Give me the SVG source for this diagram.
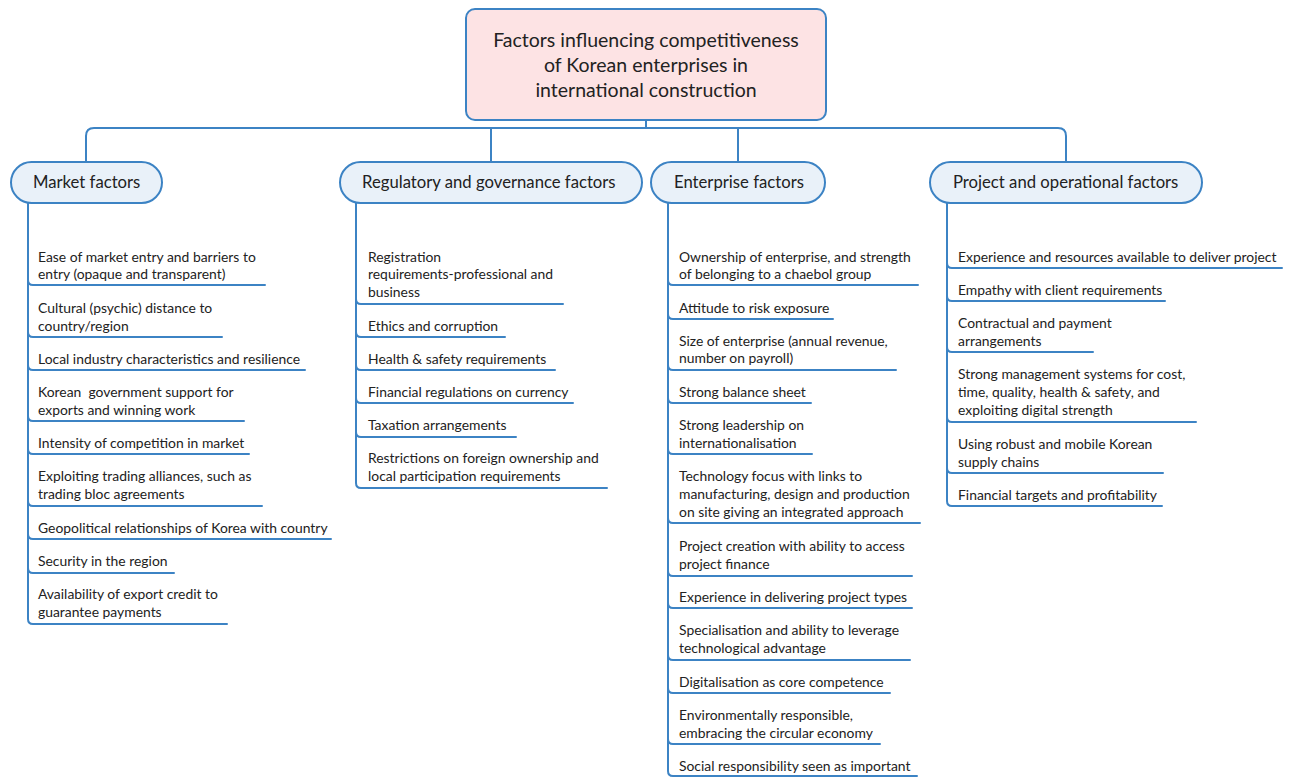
<svg xmlns="http://www.w3.org/2000/svg" width="1290" height="778" viewBox="0 0 1290 778">
<style>
.ln{fill:none;stroke:#3c83c4;stroke-width:2;stroke-linecap:round;stroke-linejoin:round}
.root{fill:#fde3e4;stroke:#3c83c4;stroke-width:2}
.cat{fill:#e9f1f9;stroke:#3c83c4;stroke-width:2}
text{font-family:Lato,"Open Sans","Liberation Sans",sans-serif;fill:#222}
.t{font-size:19.5px;text-anchor:middle}
.c{font-size:16.7px}
.i{font-size:13.9px}
</style>
<rect width="1290" height="778" fill="#fff"/>
<g id="connectors">
<path class="ln" d="M646,120 V128 M94,128 H1058 M86,162 V136 Q86,128 94,128 M1066,162 V136 Q1066,128 1058,128 M491,128 V162 M738,128 V162"/>
<!-- market -->
<path class="ln" d="M28,203 V619 Q28,624 33,624 H227 M28,280 Q28,285 33,285 H265 M28,332 Q28,337 33,337 H222 M28,365 Q28,370 33,370 H305 M28,416 Q28,421 33,421 H244 M28,449 Q28,454 33,454 H249 M28,501 Q28,506 33,506 H262 M28,534 Q28,539 33,539 H331 M28,568 Q28,573 33,573 H174"/>
<!-- regulatory -->
<path class="ln" d="M356,203 V483 Q356,488 361,488 H607 M356,299 Q356,304 361,304 H563 M356,332 Q356,337 361,337 H505 M356,365 Q356,370 361,370 H555 M356,398 Q356,403 361,403 H573 M356,432 Q356,437 361,437 H516"/>
<!-- enterprise -->
<path class="ln" d="M668,203 V771 Q668,776 673,776 H917 M668,280 Q668,285 673,285 H918 M668,314 Q668,319 673,319 H833 M668,365 Q668,370 673,370 H896 M668,398 Q668,403 673,403 H811 M668,449 Q668,454 673,454 H812 M668,518 Q668,523 673,523 H920 M668,571 Q668,576 673,576 H912 M668,603 Q668,608 673,608 H912 M668,655 Q668,660 673,660 H910 M668,688 Q668,693 673,693 H890 M668,739 Q668,744 673,744 H880"/>
<!-- project -->
<path class="ln" d="M947,203 V501 Q947,506 952,506 H1162 M947,263 Q947,268 952,268 H1282 M947,296 Q947,301 952,301 H1165 M947,347 Q947,352 952,352 H1093 M947,417 Q947,422 952,422 H1196 M947,468 Q947,473 952,473 H1163"/>
</g>
<g id="root">
<rect class="root" x="466" y="9" width="360" height="111" rx="9"/>
<text class="t" x="646" y="47">Factors influencing competitiveness</text>
<text class="t" x="646" y="72">of Korean enterprises in</text>
<text class="t" x="646" y="97">international construction</text>
</g>
<g id="market">
<rect class="cat" x="11" y="162" width="151" height="41" rx="20.5"/>
<text class="c" x="33" y="188">Market factors</text>
</g>
<g id="regulatory">
<rect class="cat" x="340" y="162" width="302" height="41" rx="20.5"/>
<text class="c" x="362" y="188">Regulatory and governance factors</text>
</g>
<g id="enterprise">
<rect class="cat" x="651" y="162" width="174" height="41" rx="20.5"/>
<text class="c" x="674" y="188">Enterprise factors</text>
</g>
<g id="project">
<rect class="cat" x="930" y="162" width="272" height="41" rx="20.5"/>
<text class="c" x="953" y="188">Project and operational factors</text>
</g>
<g id="market-items">
<text class="i" x="38" y="262">Ease of market entry and barriers to</text>
<text class="i" x="38" y="279">entry (opaque and transparent)</text>
<text class="i" x="38" y="313">Cultural (psychic) distance to</text>
<text class="i" x="38" y="331">country/region</text>
<text class="i" x="38" y="364">Local industry characteristics and resilience</text>
<text class="i" x="38" y="397">Korean&#160; government support for</text>
<text class="i" x="38" y="415">exports and winning work</text>
<text class="i" x="38" y="448">Intensity of competition in market</text>
<text class="i" x="38" y="481">Exploiting trading alliances, such as</text>
<text class="i" x="38" y="499">trading bloc agreements</text>
<text class="i" x="38" y="533">Geopolitical relationships of Korea with country</text>
<text class="i" x="38" y="566">Security in the region</text>
<text class="i" x="38" y="599">Availability of export credit to</text>
<text class="i" x="38" y="617">guarantee payments</text>
</g>
<g id="regulatory-items">
<text class="i" x="368" y="262">Registration</text>
<text class="i" x="368" y="279">requirements-professional and</text>
<text class="i" x="368" y="297">business</text>
<text class="i" x="368" y="331">Ethics and corruption</text>
<text class="i" x="368" y="364">Health &amp; safety requirements</text>
<text class="i" x="368" y="397">Financial regulations on currency</text>
<text class="i" x="368" y="430">Taxation arrangements</text>
<text class="i" x="368" y="463">Restrictions on foreign ownership and</text>
<text class="i" x="368" y="481">local participation requirements</text>
</g>
<g id="enterprise-items">
<text class="i" x="679" y="262">Ownership of enterprise, and strength</text>
<text class="i" x="679" y="279">of belonging to a chaebol group</text>
<text class="i" x="679" y="313">Attitude to risk exposure</text>
<text class="i" x="679" y="346">Size of enterprise (annual revenue,</text>
<text class="i" x="679" y="363">number on payroll)</text>
<text class="i" x="679" y="397">Strong balance sheet</text>
<text class="i" x="679" y="430">Strong leadership on</text>
<text class="i" x="679" y="448">internationalisation</text>
<text class="i" x="679" y="481">Technology focus with links to</text>
<text class="i" x="679" y="499">manufacturing, design and production</text>
<text class="i" x="679" y="517">on site giving an integrated approach</text>
<text class="i" x="679" y="551">Project creation with ability to access</text>
<text class="i" x="679" y="569">project finance</text>
<text class="i" x="679" y="602">Experience in delivering project types</text>
<text class="i" x="679" y="635">Specialisation and ability to leverage</text>
<text class="i" x="679" y="653">technological advantage</text>
<text class="i" x="679" y="687">Digitalisation as core competence</text>
<text class="i" x="679" y="720">Environmentally responsible,</text>
<text class="i" x="679" y="738">embracing the circular economy</text>
<text class="i" x="679" y="771">Social responsibility seen as important</text>
</g>
<g id="project-items">
<text class="i" x="958" y="262">Experience and resources available to deliver project</text>
<text class="i" x="958" y="295">Empathy with client requirements</text>
<text class="i" x="958" y="328">Contractual and payment</text>
<text class="i" x="958" y="346">arrangements</text>
<text class="i" x="958" y="379">Strong management systems for cost,</text>
<text class="i" x="958" y="397">time, quality, health &amp; safety, and</text>
<text class="i" x="958" y="415">exploiting digital strength</text>
<text class="i" x="958" y="449">Using robust and mobile Korean</text>
<text class="i" x="958" y="467">supply chains</text>
<text class="i" x="958" y="500">Financial targets and profitability</text>
</g>
</svg>
